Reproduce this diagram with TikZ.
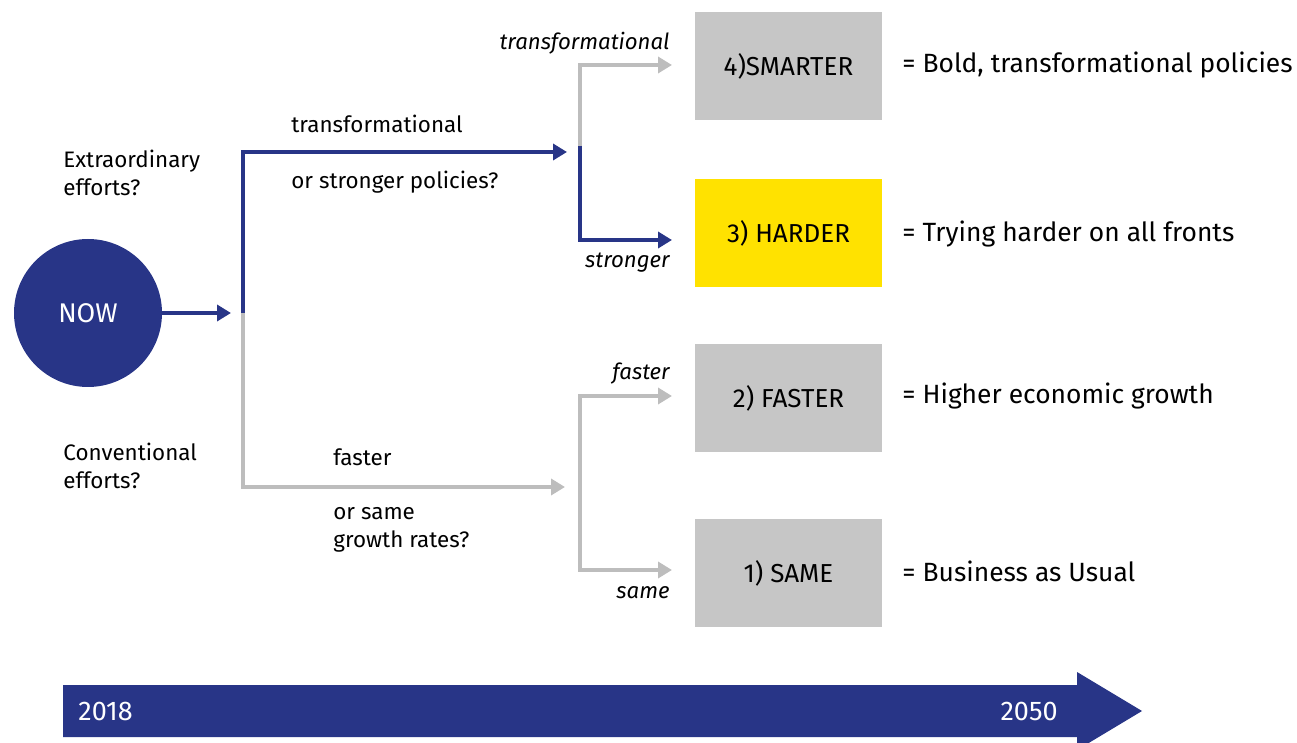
\documentclass[tikz,border=0pt]{standalone}
\usepackage{fontspec}
\setmainfont{Fira Sans}
\usetikzlibrary{arrows.meta}
\definecolor{nowblue}{HTML}{283587}
\definecolor{pathgray}{HTML}{BDBDBD}
\definecolor{boxgray}{HTML}{C6C6C6}
\definecolor{hardyellow}{HTML}{FFE200}
\begin{document}
\begin{tikzpicture}[x=0.5pt, y=-0.5pt,
  bluepath/.style={draw=nowblue, line width=2.3pt},
  graypath/.style={draw=pathgray, line width=2.3pt},
  tip/.style={-{Triangle[length=7pt,width=8pt]}},
  scenario/.style={fill=boxgray, minimum width=93.5pt, minimum height=54pt, inner sep=0pt, font=\fontsize{13}{15}\selectfont},
  meaning/.style={anchor=west, inner sep=0pt, font=\fontsize{13.2}{16}\selectfont},
  question/.style={anchor=west, align=left, inner sep=0pt, font=\fontsize{11.2}{14}\selectfont},
  branch/.style={anchor=east, inner sep=0pt, font=\itshape\fontsize{11.1}{13}\selectfont},
  year/.style={text=white, inner sep=0pt, font=\fontsize{13.5}{15}\selectfont},
]
  \useasboundingbox (0,0) rectangle (1297,743);
  \clip (0,0) rectangle (1297,743);

  % start
  \node[circle, fill=nowblue, text=white, minimum size=74pt, inner sep=0pt, font=\fontsize{13.5}{15}\selectfont] (now) at (88,313) {NOW};

  % scenario boxes
  \node[scenario] (smarter) at (788.5,66) {4)SMARTER};
  \node[scenario, fill=hardyellow] (harder) at (788.5,233) {3) HARDER};
  \node[scenario] (faster) at (788.5,398) {2) FASTER};
  \node[scenario] (same) at (788.5,573) {1) SAME};

  \node[meaning] (smartertxt) at (902,65) {= Bold, transformational policies};
  \node[meaning] (hardertxt) at (902,234) {= Trying harder on all fronts};
  \node[meaning] (fastertxt) at (902,396) {= Higher economic growth};
  \node[meaning] (sametxt) at (902,571) {= Business as Usual};

  % questions
  \node[question] (extra) at (63,173) {Extraordinary\\efforts?};
  \node[question] (conv) at (63,466) {Conventional\\efforts?};
  \node[question] (transq) at (291,124) {transformational};
  \node[question] (strongq) at (291,182) {or stronger policies?};
  \node[question] (fastq) at (333,457) {faster};
  \node[question] (sameq) at (333,530) {or same\\growth rates?};

  \node[branch] (transb) at (670,43) {transformational};
  \node[branch] (strongb) at (670,263) {stronger};
  \node[branch] (fastb) at (670,374) {faster};
  \node[branch] (sameb) at (670,593) {same};

  % path points
  \coordinate (splitin) at (231,313);
  \coordinate (split) at (243,313);
  \coordinate (upperin) at (567,152);
  \coordinate (lowerin) at (565,487);
  \coordinate (upperfork) at (580,146);
  \coordinate (lowerfork) at (580,483);
  \coordinate (smarterin) at (672,65);
  \coordinate (harderin) at (672,240);
  \coordinate (fasterin) at (672,396);
  \coordinate (samein) at (672,570);

  \draw[bluepath, tip] (now) -- (splitin);
  \draw[bluepath, tip] (split) |- (upperin);
  \draw[graypath, tip] (split) |- (lowerin);
  \draw[graypath, tip] (upperfork) |- (smarterin);
  \draw[bluepath, tip] (upperfork) |- (harderin);
  \draw[graypath, tip] (lowerfork) |- (fasterin);
  \draw[graypath, tip] (lowerfork) |- (samein);

  % timeline
  \fill[nowblue] (63,685) -- (1077,685) -- (1077,672) -- (1142,711)
    -- (1077,750) -- (1077,737) -- (63,737) -- cycle;
  \node[year, anchor=west] (y2018) at (78,711) {2018};
  \node[year, anchor=east] (y2050) at (1058,711) {2050};
\end{tikzpicture}
\end{document}
